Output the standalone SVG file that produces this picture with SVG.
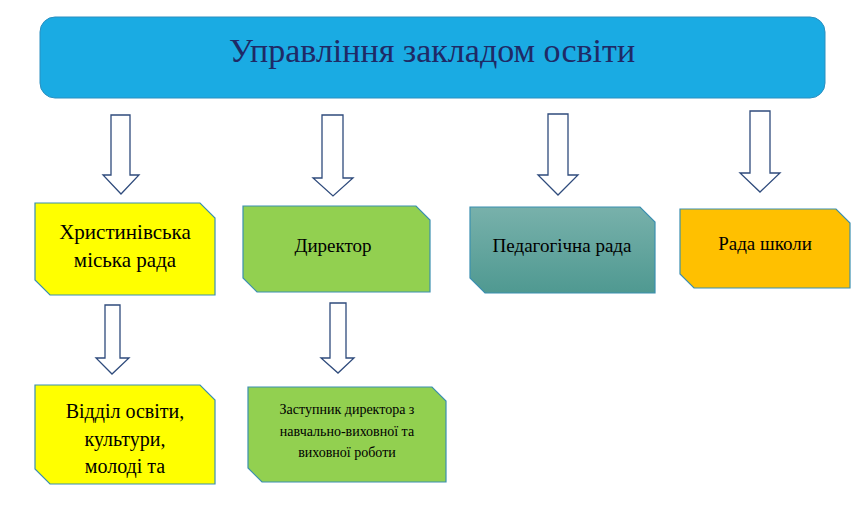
<svg xmlns="http://www.w3.org/2000/svg" width="861" height="514" viewBox="0 0 861 514">
<defs>
<style>
.arr{fill:#fff;stroke:#2f4b7c;stroke-width:1.3}
.box{stroke:#3b8fb0;stroke-width:1.2}
.t{font-family:"Liberation Serif",serif;fill:#000;text-anchor:middle}
</style>
<linearGradient id="teal" x1="0" y1="0" x2="0" y2="1"><stop offset="0" stop-color="#78b1ab"/><stop offset="1" stop-color="#4f9991"/></linearGradient>
</defs>
<rect width="861" height="514" fill="#fff"/>
<g id="header"><rect x="40" y="17" width="785" height="81" rx="15" fill="#1aabe3" stroke="#2a8fc0"/>
<text class="t" x="432" y="62" font-size="34" style="fill:#1f2a66">Управління закладом освіти</text></g>
<g id="connectors">
<path class="arr" d="M111 115H130V175H139L121 194L103 175H111Z"/>
<path class="arr" d="M322 115H343V178H353L333 196L313 178H322Z"/>
<path class="arr" d="M548 114H568V175H578L558 195L538 175H548Z"/>
<path class="arr" d="M750 111H770V173H780L760 192L740 173H750Z"/>
<path class="arr" d="M105 305H120V358H129L112 374L96 358H105Z"/>
<path class="arr" d="M330 303H346V358H354L338 373L321 358H330Z"/>
</g>
<g id="n1"><path class="box" fill="#ffff00" d="M35 203H200L215 218V295H50L35 280Z"/>
<text class="t" x="125" y="239" font-size="21">Христинівська</text><text class="t" x="125" y="267" font-size="21">міська рада</text></g>
<g id="n2"><path class="box" fill="#92d050" d="M243 206H416L430 220V292H257L243 278Z"/>
<text class="t" x="333" y="252" font-size="19">Директор</text></g>
<g id="n3"><path class="box" fill="url(#teal)" d="M470 207H640L655 222V293H485L470 278Z"/>
<text class="t" x="562" y="252" font-size="19">Педагогічна рада</text></g>
<g id="n4"><path class="box" fill="#ffc000" d="M680 209H836L850 223V288H694L680 274Z"/>
<text class="t" x="765" y="250" font-size="19">Рада школи</text></g>
<g id="n5"><path class="box" fill="#ffff00" d="M35 385H200L215 400V484H50L35 469Z"/>
<text class="t" x="125" y="418" font-size="20">Відділ освіти,</text><text class="t" x="125" y="446" font-size="20">культури,</text><text class="t" x="125" y="473" font-size="20">молоді та</text></g>
<g id="n6"><path class="box" fill="#92d050" d="M248 387H432L446 401V482H262L248 468Z"/>
<text class="t" x="347" y="414" font-size="14">Заступник  директора з</text><text class="t" x="347" y="436" font-size="14">навчально-виховної та</text><text class="t" x="347" y="457" font-size="14">виховної роботи</text></g>
</svg>
